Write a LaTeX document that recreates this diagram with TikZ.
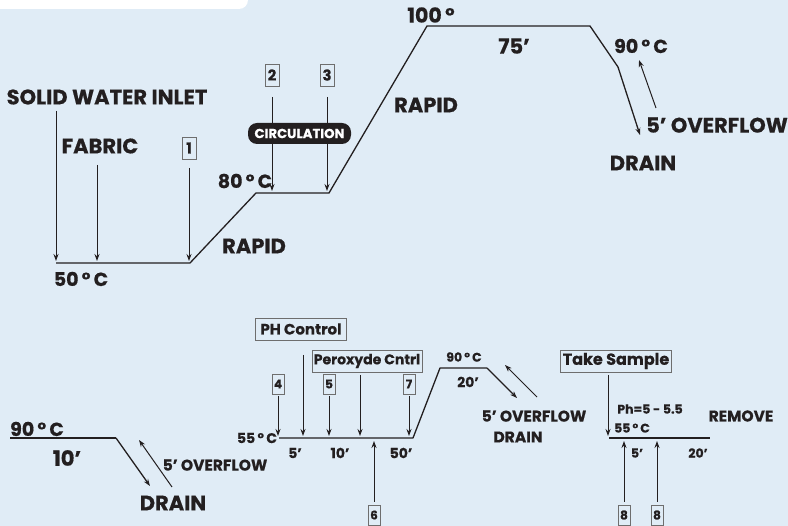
\documentclass[tikz,border=0pt]{standalone}
\usepackage{fontspec}
\setmainfont{Poppins}[BoldFeatures={FakeBold=0.5}]
\usetikzlibrary{arrows.meta}
\definecolor{bg}{HTML}{E0ECF6}
\definecolor{ink}{HTML}{231F20}
\definecolor{boxgray}{HTML}{6E6E6E}
\begin{document}
\begin{tikzpicture}[x=1pt,y=-1pt,
 every node/.style={text=ink, inner sep=0pt},
 big/.style={font=\bfseries\fontsize{21}{21}\selectfont},
 deg/.style={font=\bfseries\fontsize{19}{19}\selectfont},
 mid/.style={font=\bfseries\fontsize{15.5}{15.5}\selectfont},
 midd/.style={font=\bfseries\fontsize{14}{14}\selectfont},
 small/.style={font=\bfseries\fontsize{12.5}{12.5}\selectfont},
 numbox/.style={draw=boxgray, line width=0.8pt, minimum width=14pt, minimum height=22pt, font=\bfseries\fontsize{15}{15}\selectfont},
 numboxs/.style={draw=boxgray, line width=0.8pt, minimum width=12pt, minimum height=20pt, font=\bfseries\fontsize{12}{12}\selectfont},
 labbox/.style={draw=boxgray, line width=0.8pt, minimum height=22pt, font=\bfseries\fontsize{15}{15}\selectfont},
 pill/.style={fill=ink, text=white, rounded corners=9pt, minimum height=21pt, minimum width=103pt, font=\bfseries\fontsize{13.2}{13.2}\selectfont},
 curve/.style={draw=ink, line width=1.3pt, line join=round},
 arr/.style={draw=ink, line width=1pt, -{Stealth[length=7pt,width=5pt]}},
]
\useasboundingbox (0,0) rectangle (788,526);
% background
\fill[bg] (0,0) rectangle (788,526);
\fill[white, rounded corners=9pt] (-20,-20) rectangle (248,9);

% ===== TOP PROFILE =====
\coordinate (t1) at (56,263);
\coordinate (t2) at (190,263);
\coordinate (t3) at (256,193);
\coordinate (t4) at (329,193);
\coordinate (t5) at (427,26);
\coordinate (t6) at (590,26);
\coordinate (t7) at (618,67);
\coordinate (t8) at (640,135);
\draw[curve] (t1) -- (t2) -- (t3) -- (t4) -- (t5) -- (t6) -- (t7);
\draw[arr, line width=1.3pt] (t7) -- (t8);

\node[big] (solid) at (107,97) {SOLID WATER INLET};
\node[big] (fabric) at (100,146) {FABRIC};
\node[numbox] (b1) at (189,148) {1};
\node[numbox] (b2) at (272,75) {2};
\node[numbox] (b3) at (327,75) {3};
\node[deg] (t80) at (245,181) {80\,°\,C};
\node[deg] (t50) at (81,279) {50\,°\,C};
\node[big] (rapid1) at (254,246) {RAPID};
\node[big] (rapid2) at (426,105) {RAPID};
\node[deg, font=\bfseries\fontsize{20.5}{20.5}\selectfont] (t100) at (431,15) {100\,°};
\node[big] (m75) at (514,46) {75’};
\node[deg] (t90) at (641,46) {90\,°\,C};
\node[big] (ovf1) at (717,125) {5’ OVERFLOW};
\node[big] (drain1) at (643,163) {DRAIN};

\coordinate (a1s) at (56,111);  \coordinate (a1e) at (56,261);
\coordinate (a2s) at (97,165);  \coordinate (a2e) at (97,261);
\coordinate (a3s) at (189,168); \coordinate (a3e) at (189,261);
\coordinate (a4s) at (272,97);  \coordinate (a4e) at (272,191);
\coordinate (a5s) at (327,97);  \coordinate (a5e) at (327,191);
\draw[arr] (a1s) -- (a1e);
\draw[arr] (a2s) -- (a2e);
\draw[arr] (a3s) -- (a3e);
\draw[arr] (a4s) -- (a4e);
\draw[arr] (a5s) -- (a5e);
\node[pill] (circ) at (299.5,133.5) {CIRCULATION};

\coordinate (o1s) at (656,108); \coordinate (o1e) at (639,60);
\draw[arr] (o1s) -- (o1e);

% ===== BOTTOM LEFT =====
\coordinate (l1) at (10,438);
\coordinate (l2) at (116,438);
\coordinate (l3) at (150,486);
\draw[curve] (l1) -- (l2);
\draw[arr, line width=1.3pt] (l2) -- (l3);
\node[deg, anchor=base west] (t90b) at (10,436) {90\,°\,C};
\node[big] (m10) at (67,458) {10’};
\node[mid] (ovf2) at (215,465) {5’ OVERFLOW};
\node[big] (drain2) at (173,503) {DRAIN};
\coordinate (o2s) at (172,487); \coordinate (o2e) at (139,440);
\draw[arr] (o2s) -- (o2e);

% ===== BOTTOM MIDDLE =====
\coordinate (m1) at (279,438);
\coordinate (m2) at (413,438);
\coordinate (m3) at (440,368);
\coordinate (m4) at (487,368);
\coordinate (m5) at (517,398);
\draw[curve] (m1) -- (m2) -- (m3) -- (m4);
\draw[arr, line width=1.3pt] (m4) -- (m5);
\coordinate (o3s) at (537,397); \coordinate (o3e) at (505,365);
\draw[arr] (o3s) -- (o3e);

\node[midd] (t55) at (257,438) {55\,°\,C};
\node[midd] (m5m) at (295,453) {5’};
\node[midd] (m10m) at (340,453) {10’};
\node[midd] (m50m) at (401,453) {50’};
\node[small] (t90c) at (464,357) {90\,°\,C};
\node[midd] (m20) at (468,382) {20’};
\node[mid] (ovf3) at (534,416) {5’ OVERFLOW};
\node[mid] (drain3) at (518,437) {DRAIN};

\node[labbox, minimum width=91pt] (ph) at (301,329) {PH Control};
\node[labbox, minimum width=110pt, font=\bfseries\fontsize{14}{14}\selectfont] (per) at (367,361) {Peroxyde Cntrl};
\node[numboxs] (b4) at (278,384) {4};
\node[numboxs] (b5) at (329,384) {5};
\node[numboxs] (b7) at (409,384) {7};
\node[numboxs] (b6) at (374,515) {6};

\coordinate (p1s) at (303,355); \coordinate (p1e) at (303,436);
\coordinate (p2s) at (360,375); \coordinate (p2e) at (360,436);
\coordinate (p3s) at (278,396); \coordinate (p3e) at (278,436);
\coordinate (p4s) at (329,396); \coordinate (p4e) at (329,436);
\coordinate (p5s) at (409,396); \coordinate (p5e) at (409,436);
\coordinate (p6s) at (374,502); \coordinate (p6e) at (374,441);
\foreach \a in {p1,p2,p3,p4,p5,p6} \draw[arr] (\a s) -- (\a e);

% ===== BOTTOM RIGHT =====
\coordinate (r1) at (609,438);
\coordinate (r2) at (710,438);
\draw[curve, line width=2pt] (r1) -- (r2);
\node[labbox, minimum width=111pt, font=\bfseries\fontsize{16}{16}\selectfont] (take) at (616,361) {Take Sample};
\node[small] (ph2) at (650,409) {Ph=5 - 5.5};
\node[small] (t55r) at (632,428) {55\,°\,C};
\node[mid] (remove) at (741,416) {REMOVE};
\node[small] (r5) at (637,453) {5’};
\node[small] (r20) at (698,453) {20’};
\node[numboxs] (b8a) at (624,515) {8};
\node[numboxs] (b8b) at (657,515) {8};
\coordinate (q1s) at (608,375); \coordinate (q1e) at (608,436);
\coordinate (q2s) at (624,502); \coordinate (q2e) at (624,441);
\coordinate (q3s) at (657,502); \coordinate (q3e) at (657,441);
\foreach \a in {q1,q2,q3} \draw[arr] (\a s) -- (\a e);
\end{tikzpicture}
\end{document}
